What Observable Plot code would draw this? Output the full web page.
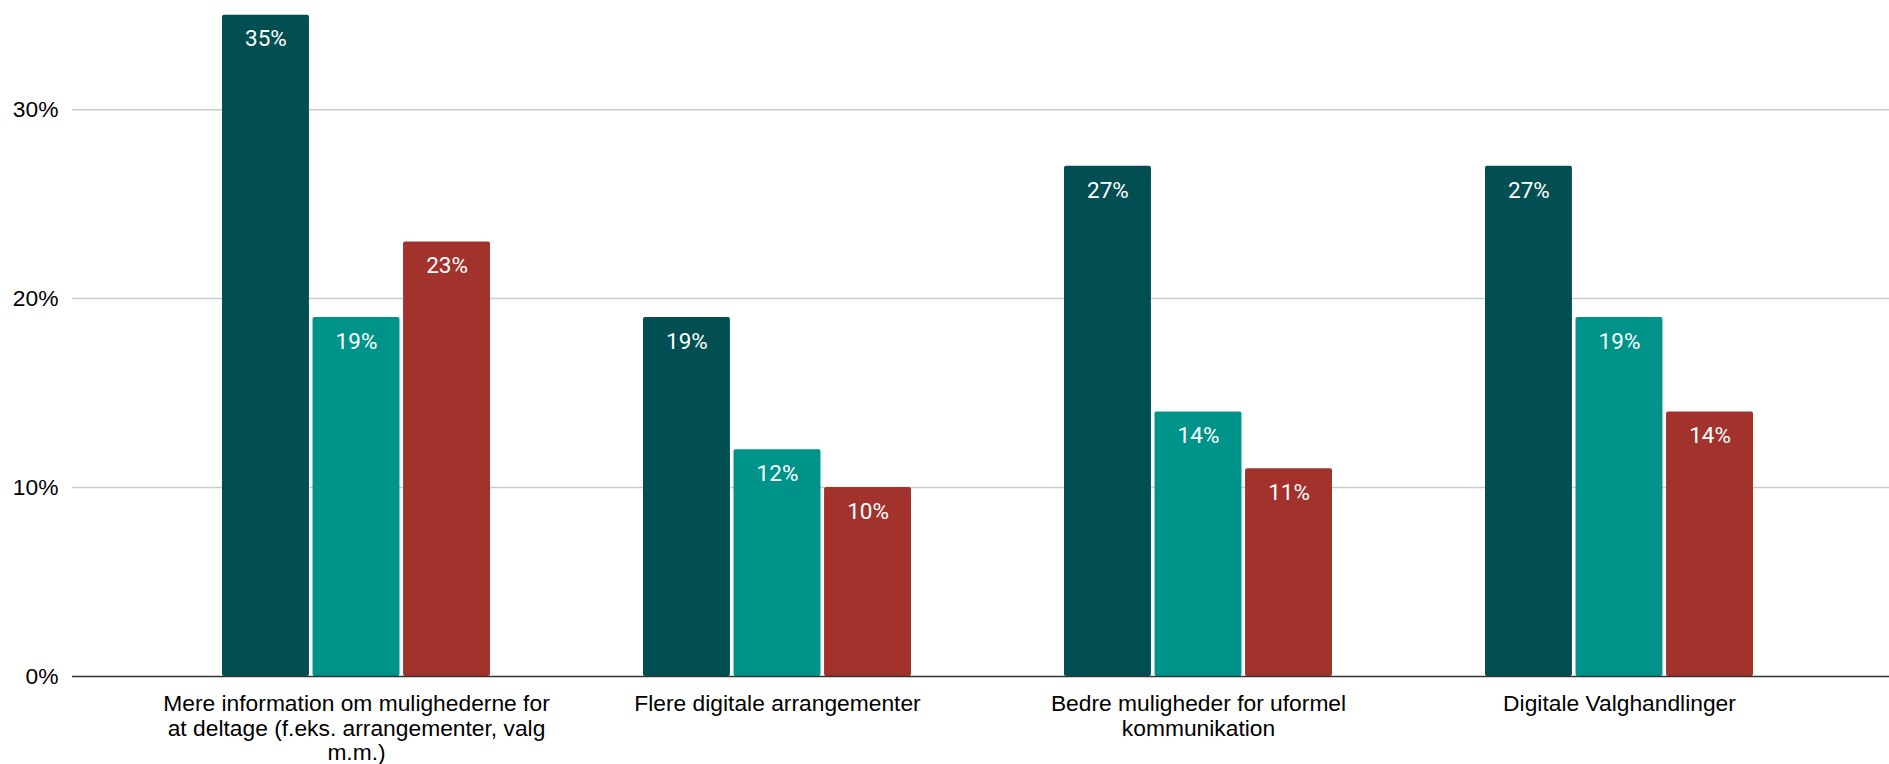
<!DOCTYPE html>
<html><head><meta charset="utf-8">
<script src="https://cdn.jsdelivr.net/npm/d3@7"></script>
<script src="https://cdn.jsdelivr.net/npm/@observablehq/plot@0.6"></script>
<style>html,body{margin:0;padding:0;background:#fff} #chart svg{display:block}</style>
</head><body><div id="chart"></div>
<script>
const categories = [
  "Mere information om mulighederne for at deltage (f.eks. arrangementer, valg m.m.)",
  "Flere digitale arrangementer",
  "Bedre muligheder for uformel kommunikation",
  "Digitale Valghandlinger"
];
const tickLabels = [
  "Mere information om mulighederne for\nat deltage (f.eks. arrangementer, valg\nm.m.)",
  "Flere digitale arrangementer",
  "Bedre muligheder for uformel\nkommunikation",
  "Digitale Valghandlinger"
];
const seriesNames = ["Serie 1", "Serie 2", "Serie 3"];
const series1 = [35, 19, 27, 27];
const series2 = [19, 12, 14, 19];
const series3 = [23, 10, 11, 14];
const colors = ["#024f53", "#00938a", "#a1322c"];
const yTicks = [0, 10, 20, 30];

const data = [];
[series1, series2, series3].forEach((vals, s) =>
  vals.forEach((v, i) => data.push({category: categories[i], series: seriesNames[s], value: v})));

const W = 1889, H = 764;
const xRange = [145, 1829];
const padIn = 0.364, padOut = 0.182;
const step = (xRange[1] - xRange[0]) / (categories.length - padIn + 2 * padOut);
const bw = step * (1 - padIn);
const barW = 86.7;
const gap = (bw - 3 * barW) / 2;

const labelFont = "'Liberation Sans', Arial, Helvetica, sans-serif";

const marks = [
  Plot.ruleY(yTicks.slice(1), {stroke: "#cccccc", strokeWidth: 1.5})
];
seriesNames.forEach((name, s) => {
  const rows = data.filter(d => d.series === name);
  const left = s * (barW + gap);
  marks.push(Plot.barY(rows, {
    x: "category", y: "value", fill: colors[s],
    insetLeft: left, insetRight: bw - left - barW, rx: 2
  }));
  marks.push(Plot.text(rows, {
    x: "category", y: "value", text: d => d.value + "%",
    dx: left + barW / 2 - bw / 2, dy: 24,
    fill: "white", fontSize: 22.5, fontFamily: "Roboto, sans-serif"
  }));
});
marks.push(Plot.ruleY([0], {stroke: "#333333", strokeWidth: 1.7}));

const hasAxisMarks = typeof Plot.axisX === "function";
if (hasAxisMarks) {
  marks.push(Plot.axisY({
    ticks: yTicks, tickFormat: d => d + "%", tickSize: 0, tickPadding: 14,
    label: null, fontSize: 22.8, fill: "#000"
  }));
  marks.push(Plot.axisX({
    tickFormat: d => tickLabels[categories.indexOf(d)], tickSize: 0, tickPadding: 17,
    label: null, fontSize: 22.8, lineHeight: 1.08, fill: "#000"
  }));
}

const chart = Plot.plot({
  width: W, height: H,
  marginLeft: 72, marginRight: 0, marginTop: 14.7, marginBottom: 88,
  style: {fontFamily: labelFont, fontSize: "22.8px", color: "#000", background: "#fff"},
  x: Object.assign({domain: categories, range: xRange, paddingInner: padIn, paddingOuter: padOut, label: null},
    hasAxisMarks ? {} : {tickSize: 0, tickPadding: 17, tickFormat: d => tickLabels[categories.indexOf(d)]}),
  y: Object.assign({domain: [0, 35], label: null},
    hasAxisMarks ? {} : {ticks: yTicks, tickFormat: d => d + "%", tickSize: 0, tickPadding: 14}),
  marks
});
document.getElementById("chart").appendChild(chart);
</script>
</body></html>
